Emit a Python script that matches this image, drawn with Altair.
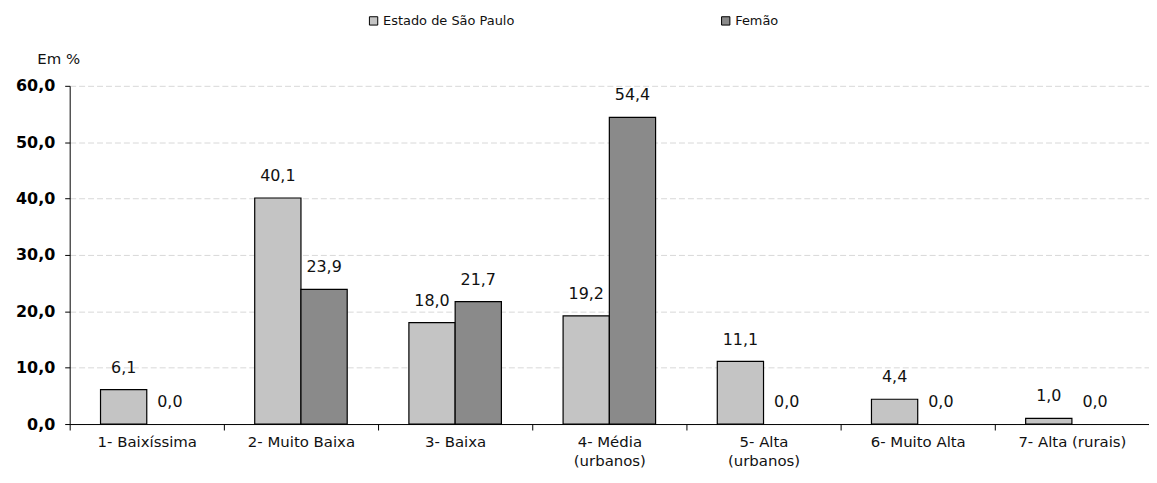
import altair as alt
import pandas as pd

categories = ["1- Baixíssima", "2- Muito Baixa", "3- Baixa", "4- Média|(urbanos)",
              "5- Alta|(urbanos)", "6- Muito Alta", "7- Alta (rurais)"]
series = ["Estado de São Paulo", "Femão"]
sp_values = [6.1, 40.1, 18.0, 19.2, 11.1, 4.4, 1.0]
femao_values = [0.0, 23.9, 21.7, 54.4, 0.0, 0.0, 0.0]

rows = []
for c, a, b in zip(categories, sp_values, femao_values):
    rows.append({"cat": c, "serie": series[0], "v": a})
    rows.append({"cat": c, "serie": series[1], "v": b})
df = pd.DataFrame(rows)

FONT = "DejaVu Sans"

x = alt.X("cat:N", sort=categories, scale=alt.Scale(paddingInner=0, paddingOuter=0),
          axis=alt.Axis(title=None, labelAngle=0, labelExpr="split(datum.label, '|')",
                        tickBand="extent", tickSize=6, tickColor="#000", domainColor="#000",
                        labelFontSize=15, labelColor="#111", labelPadding=5, labelLineHeight=19,
                        labelFont=FONT, grid=False))
xo = alt.XOffset("serie:N", sort=series,
                 scale=alt.Scale(paddingInner=0, paddingOuter=0.667))

base = alt.Chart(df).transform_calculate(
    lab="replace(format(datum.v, '.1f'), '.', ',')")

bars = base.transform_filter("datum.v > 0").mark_bar(stroke="#000", strokeWidth=1.2).encode(
    x=x, xOffset=xo,
    y=alt.Y("v:Q", scale=alt.Scale(domain=[0, 60], nice=False),
            axis=alt.Axis(title="Em %", titleAngle=0, titleX=-33, titleY=-27,
                          titleAlign="left", titleBaseline="middle", titleFontSize=15,
                          titleFontWeight="normal", titleFont=FONT, titleColor="#111",
                          values=[0, 10, 20, 30, 40, 50, 60],
                          labelExpr="replace(format(datum.value, '.1f'), '.', ',')",
                          labelFontSize=16, labelFont=FONT, labelColor="#000", labelFontWeight="bold",
                          tickSize=5, tickColor="#000", domainColor="#000", labelPadding=10,
                          gridColor="#d8d8d8", gridDash=[6, 3])),
    color=alt.Color("serie:N", sort=series,
                    scale=alt.Scale(domain=series, range=["#c4c4c4", "#8a8a8a"]),
                    legend=alt.Legend(title=None, orient="none", direction="horizontal",
                                      legendX=299, legendY=-72, columns=2, columnPadding=205,
                                      symbolType="square", symbolSize=70,
                                      symbolStrokeColor="#000", symbolStrokeWidth=1,
                                      labelFontSize=13, labelFont=FONT, labelColor="#111",
                                      labelOffset=3)),
)

texts = base.mark_text(baseline="middle", dy=-22, fontSize=16, font=FONT, color="#111").encode(
    x=x, xOffset=xo, y="v:Q", text="lab:N")

chart = alt.layer(bars, texts).properties(
    width=1085, height=340,
    autosize=alt.AutoSizeParams(type="none"),
    padding={"left": 62, "top": 77, "right": 0, "bottom": 50},
).configure_view(stroke=None).configure_axisX(grid=False)

chart.save("out.html", embed_options={"renderer": "svg", "actions": False})
